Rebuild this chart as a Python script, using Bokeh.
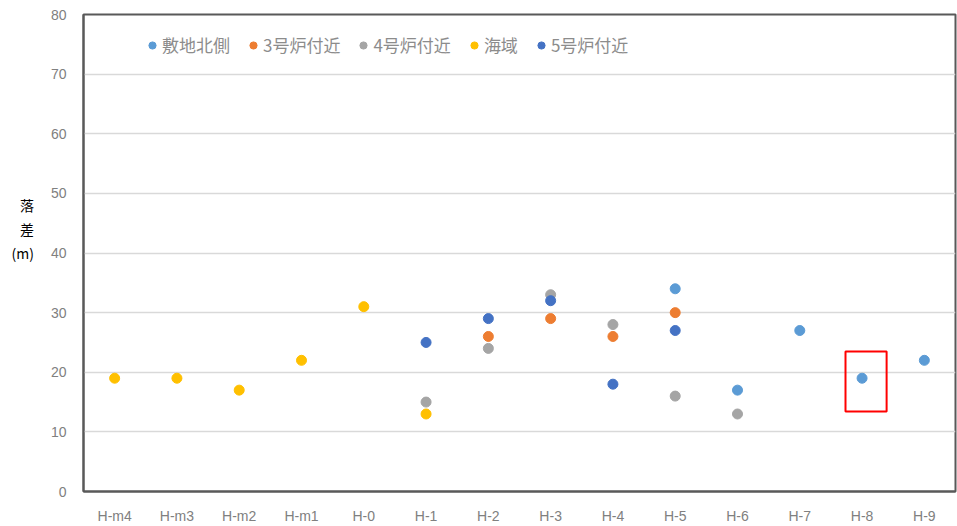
from bokeh.plotting import figure
from bokeh.models import Legend, LegendItem, BoxAnnotation, ColumnDataSource, FixedTicker
from bokeh.embed import file_html
from bokeh.resources import INLINE

categories = ["H-m4", "H-m3", "H-m2", "H-m1", "H-0", "H-1", "H-2", "H-3",
              "H-4", "H-5", "H-6", "H-7", "H-8", "H-9"]

series_names = ["敷地北側", "3号炉付近", "4号炉付近", "海域", "5号炉付近"]
series_colors = ["#5B9BD5", "#ED7D31", "#A5A5A5", "#FFC000", "#4472C4"]

north_x = ["H-5", "H-6", "H-7", "H-8", "H-9"]
north_y = [34, 17, 27, 19, 22]

unit3_x = ["H-2", "H-3", "H-4", "H-5"]
unit3_y = [26, 29, 26, 30]

unit4_x = ["H-1", "H-2", "H-3", "H-4", "H-5", "H-6"]
unit4_y = [15, 24, 33, 28, 16, 13]

sea_x = ["H-m4", "H-m3", "H-m2", "H-m1", "H-0", "H-1"]
sea_y = [19, 19, 17, 22, 31, 13]

unit5_x = ["H-1", "H-2", "H-3", "H-4", "H-5"]
unit5_y = [25, 29, 32, 18, 27]

y_ticks = [0, 10, 20, 30, 40, 50, 60, 70, 80]
y_label = "落\n差\n(m)\n\u3000\n\u3000"
highlight_cat = "H-8"
highlight_low, highlight_high = 13.4, 23.5

series = [(north_x, north_y), (unit3_x, unit3_y), (unit4_x, unit4_y),
          (sea_x, sea_y), (unit5_x, unit5_y)]

W, H = 957, 526
p = figure(x_range=categories, y_range=(0, 80), width=W, height=H,
           output_backend="svg", toolbar_location=None,
           min_border_left=83, min_border_right=2, min_border_top=14, min_border_bottom=32)

items = []
for name, color, (xs, ys) in zip(series_names, series_colors, series):
    src = ColumnDataSource(dict(x=xs, y=ys))
    r = p.scatter("x", "y", source=src, size=10, marker="circle",
                  fill_color=color, line_color=color)
    items.append(LegendItem(label=name, renderers=[r]))

legend = Legend(items=items, orientation="horizontal", location=(60, 434),
                border_line_color=None, background_fill_alpha=0,
                label_text_font="Noto Sans CJK JP", label_text_font_size="17px",
                label_text_color="#8C8C8C", glyph_width=18, glyph_height=18,
                label_standoff=1, spacing=14, padding=0, margin=0,
                label_height=18)
p.add_layout(legend)

idx = categories.index(highlight_cat)
p.add_layout(BoxAnnotation(left=idx + 0.234, right=idx + 0.894,
                           bottom=highlight_low, top=highlight_high,
                           fill_alpha=0, line_color="#FF0000", line_alpha=1,
                           line_width=2))

p.yaxis.ticker = FixedTicker(ticks=y_ticks)
p.xgrid.grid_line_color = None
p.ygrid.grid_line_color = "#D9D9D9"
p.ygrid.grid_line_width = 1.5

for ax in (p.xaxis, p.yaxis):
    ax.axis_line_color = "#595959"
    ax.axis_line_width = 2
    ax.major_tick_line_color = None
    ax.minor_tick_line_color = None
    ax.major_label_text_color = "#808080"
    ax.major_label_text_font = "Liberation Sans"
    ax.major_label_text_font_size = "14px"
p.xaxis.major_label_standoff = 10
p.yaxis.major_label_standoff = 11

p.yaxis.axis_label = y_label
p.yaxis.axis_label_orientation = "horizontal"
p.yaxis.axis_label_text_font = "Noto Sans CJK JP"
p.yaxis.axis_label_text_font_size = "14px"
p.yaxis.axis_label_text_font_style = "normal"
p.yaxis.axis_label_text_color = "#000000"
p.yaxis.axis_label_standoff = 14

p.outline_line_color = "#595959"
p.outline_line_width = 2
p.outline_line_alpha = 1

open("out.html", "w").write(file_html(p, INLINE))
